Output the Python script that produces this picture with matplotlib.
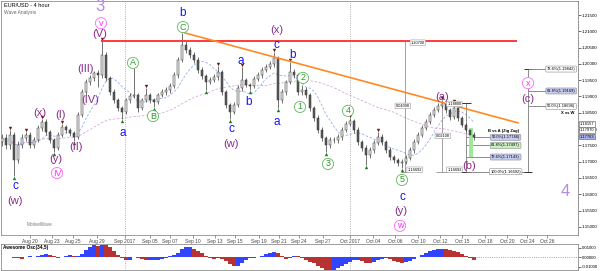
import numpy as np
import pandas as pd
import matplotlib.pyplot as plt
from matplotlib.ticker import MultipleLocator
from matplotlib.transforms import blended_transform_factory

plt.rcParams['font.family'] = ['Liberation Sans', 'DejaVu Sans']

# 4 hour candles (each entry ~ one bar on the chart), open = previous close
first_open = 1.1760
closes = [1.1773, 1.1751, 1.1782, 1.1705, 1.1751, 1.1773, 1.1782, 1.1751, 1.1767, 1.1803,
          1.1822, 1.1791, 1.1767, 1.1742, 1.1782, 1.1807, 1.1797, 1.1788, 1.1776, 1.1843,
          1.1914, 1.1945, 1.1957, 1.1972, 1.1966, 1.2027, 1.1957, 1.1914, 1.1889, 1.1865,
          1.1853, 1.1889, 1.1902, 1.1905, 1.1865, 1.1889, 1.1905, 1.1889, 1.1883, 1.1905,
          1.1914, 1.1920, 1.1932, 1.1966, 1.2012, 1.2058, 1.2043, 1.2027, 1.2012, 1.1981,
          1.1963, 1.1945, 1.1951, 1.1960, 1.1975, 1.1914, 1.1874, 1.1853, 1.1874, 1.1926,
          1.1951, 1.1935, 1.1932, 1.1954, 1.1966, 1.1981, 1.1991, 1.2000, 1.2018, 1.1889,
          1.1914, 1.1945, 1.1975, 1.1966, 1.1914, 1.1920, 1.1905, 1.1865, 1.1834, 1.1797,
          1.1773, 1.1751, 1.1767, 1.1767, 1.1776, 1.1797, 1.1816, 1.1825, 1.1797, 1.1761,
          1.1742, 1.1721, 1.1736, 1.1757, 1.1776, 1.1761, 1.1736, 1.1715, 1.1705, 1.1696,
          1.1699, 1.1711, 1.1736, 1.1761, 1.1782, 1.1803, 1.1822, 1.1843, 1.1859, 1.1871,
          1.1877, 1.1859, 1.1837, 1.1865, 1.1834, 1.1813, 1.1797, 1.1782, 1.1776]
highs = [1.1785, 1.1785, 1.1797, 1.1790, 1.1762, 1.1784, 1.1791, 1.1790, 1.1776, 1.1812,
         1.1831, 1.1830, 1.1798, 1.1772, 1.1790, 1.1816, 1.1814, 1.1804, 1.1795, 1.1852,
         1.1922, 1.1955, 1.1966, 1.1978, 1.1980, 1.2070, 1.2035, 1.1964, 1.1922, 1.1896,
         1.1872, 1.1896, 1.1910, 1.1987, 1.1912, 1.1896, 1.1926, 1.1912, 1.1896, 1.1912,
         1.1922, 1.1928, 1.1940, 1.1975, 1.2022, 1.2095, 1.2070, 1.2052, 1.2036, 1.2020,
         1.1990, 1.1970, 1.1960, 1.1968, 1.1994, 1.1982, 1.1920, 1.1880, 1.1882, 1.1934,
         1.1991, 1.1958, 1.1942, 1.1962, 1.1974, 1.1990, 1.2000, 1.2010, 1.2037, 1.2025,
         1.1922, 1.1952, 1.2006, 1.1984, 1.1972, 1.1935, 1.1928, 1.1912, 1.1872, 1.1842,
         1.1805, 1.1780, 1.1775, 1.1776, 1.1785, 1.1805, 1.1824, 1.1834, 1.1832, 1.1805,
         1.1768, 1.1750, 1.1745, 1.1765, 1.1791, 1.1784, 1.1768, 1.1744, 1.1722, 1.1712,
         1.1708, 1.1720, 1.1744, 1.1770, 1.1790, 1.1812, 1.1830, 1.1852, 1.1868, 1.1880,
         1.1889, 1.1884, 1.1866, 1.1880, 1.1872, 1.1840, 1.1820, 1.1804, 1.1790]
lows = [1.1748, 1.1740, 1.1740, 1.1656, 1.1695, 1.1742, 1.1762, 1.1742, 1.1742, 1.1760,
        1.1795, 1.1782, 1.1758, 1.1730, 1.1736, 1.1776, 1.1788, 1.1780, 1.1764, 1.1770,
        1.1836, 1.1905, 1.1936, 1.1948, 1.1929, 1.1958, 1.1948, 1.1905, 1.1880, 1.1856,
        1.1831, 1.1846, 1.1880, 1.1895, 1.1853, 1.1858, 1.1882, 1.1880, 1.1868, 1.1876,
        1.1898, 1.1906, 1.1912, 1.1925, 1.1958, 1.2005, 1.2034, 1.2018, 1.2003, 1.1972,
        1.1955, 1.1920, 1.1938, 1.1944, 1.1952, 1.1905, 1.1866, 1.1831, 1.1846, 1.1868,
        1.1918, 1.1928, 1.1920, 1.1925, 1.1946, 1.1958, 1.1974, 1.1984, 1.1992, 1.1865,
        1.1880, 1.1906, 1.1938, 1.1958, 1.1905, 1.1906, 1.1896, 1.1856, 1.1825, 1.1788,
        1.1764, 1.1730, 1.1742, 1.1756, 1.1758, 1.1768, 1.1790, 1.1808, 1.1788, 1.1752,
        1.1734, 1.1690, 1.1712, 1.1728, 1.1750, 1.1752, 1.1728, 1.1706, 1.1696, 1.1688,
        1.1681, 1.1692, 1.1704, 1.1728, 1.1754, 1.1775, 1.1796, 1.1815, 1.1836, 1.1852,
        1.1864, 1.1850, 1.1828, 1.1830, 1.1826, 1.1805, 1.1790, 1.1774, 1.1768]

# date labels and their bar positions
date_labels = ['Aug 20', 'Aug 23', 'Aug 25', 'Aug 29', 'Sep 2017', 'Sep 05', 'Sep 07', 'Sep 10',
               'Sep 13', 'Sep 15', 'Sep 19', 'Sep 21', 'Sep 24', 'Sep 27', 'Oct 2017', 'Oct 04',
               'Oct 06', 'Oct 10', 'Oct 12', 'Oct 15', 'Oct 18', 'Oct 20', 'Oct 24', 'Oct 26']
date_pos = [7, 12.5, 17.75, 23.75, 30.75, 37, 42, 47.75, 53.25, 58.25, 64.25, 69.25, 74.25,
            80.25, 87, 92.75, 98.25, 104, 109.5, 115, 120.75, 126.25, 131.25, 136.25]
month_lines = [30.75, 87]

# fractal markers (bar indices)
frac_hi = [2, 6, 10, 15, 25, 36, 45, 54, 60, 68, 72, 87, 94, 110, 113]
frac_lo = [3, 13, 18, 30, 38, 51, 57, 62, 69, 81, 91, 100]

# wave labels
wave_text = ['3', 'v', '(V)', '(III)', '(IV)', '(x)', '(I)', '(II)', '(y)', 'IV', 'c', '(w)',
             'a', 'A', 'B', 'C', 'b', 'a', 'b', 'c', '(w)', '(x)', 'c', 'a', 'b',
             '2', '1', '3', '4', '5', 'c', '(y)', 'w', '(a)', '(b)', 'x', '(c)', '4']
wave_x = [24.5, 24.75, 24.5, 20.75, 22, 9.5, 14.75, 18.5, 13.5, 13.75, 3.25, 3.25,
          30.25, 32.75, 37.75, 45.25, 45.25, 59.75, 61.75, 57.25, 57.25, 68.75, 68.5, 68.75, 72.75,
          75.25, 74.5, 81.5, 86.5, 100, 100, 99.75, 99.5, 110, 116.75, 131.5, 131.5, 140.75]
wave_y = [1.2175, 1.2125, 1.2092, 1.1984, 1.1889, 1.1849, 1.1843, 1.1745, 1.1708, 1.1665, 1.1626, 1.1580,
          1.1788, 1.2003, 1.1840, 1.2113, 1.2156, 1.2009, 1.1883, 1.1800, 1.1754, 1.2104, 1.2058, 1.1822, 1.2027,
          1.1957, 1.1868, 1.1693, 1.1856, 1.1644, 1.1592, 1.1549, 1.1503, 1.1898, 1.1687, 1.1941, 1.1892, 1.1610]
wave_kind = ['big', 'pink', 'purple', 'purple', 'purple', 'purple', 'purple', 'purple', 'purple', 'pink',
             'blue', 'purple', 'blue', 'green', 'green', 'green', 'blue', 'blue', 'blue', 'blue', 'purple',
             'purple', 'blue', 'blue', 'blue', 'green', 'green', 'green', 'green', 'green', 'blue', 'purple',
             'pink', 'purple', 'purple', 'pink', 'purple', 'big']

# horizontal resistance and trend line
res_price = 1.2070
res_from, res_to = 24.75, 128.75
trend_x = [45.75, 129]
trend_y = [1.2095, 1.1819]

# fibonacci tools
big_levels = ['78.6%(1.19842)', '61.8%(1.19169)', '50.0%(1.18696)']
big_prices = [1.19842, 1.19169, 1.18696]
b_levels = ['50.0%(1.17746)', '61.8%(1.17497)', '78.6%(1.17143)', '100.0%(1.16692)']
b_prices = [1.17746, 1.17497, 1.17143, 1.16692]
b_fills = ['#c7cdf2', '#c9efc2', '#c7cdf2', 'white']
low_5 = 1.16692
high_a = 1.18800
price_tags = ['1.18157', '1.17970', '1.17763']
tag_prices = [1.18157, 1.17970, 1.17763]

closes = np.array(closes)
highs = np.array(highs)
lows = np.array(lows)
opens = np.concatenate([[first_open], closes[:-1]])
bars = np.arange(len(closes))

fig = plt.figure(figsize=(6, 2.71), dpi=100)
ax = fig.add_axes([1 / 600, 1 - 235 / 271, 577 / 600, 234 / 271])
ao_ax = fig.add_axes([1 / 600, 1 / 271, 577 / 600, 26 / 271])

# moving averages
ma_fast = pd.Series(closes).rolling(8, min_periods=1).mean()
ma_slow = pd.Series(closes).rolling(40, min_periods=1).mean()
ax.plot(bars, ma_fast, color='#8fb0ee', lw=0.6, dashes=(3, 2))
ax.plot(bars, ma_slow, color='#d9a9de', lw=0.6, dashes=(3, 2))

# candles
up = closes >= opens
ax.vlines(bars, lows, highs, color='#3a3a3a', lw=0.5, zorder=3)
ax.bar(bars, np.maximum(np.abs(closes - opens), 0.00005), bottom=np.minimum(opens, closes),
       width=0.6, color=np.where(up, '#e8e8e8', '#5a5a5a'), edgecolor='#333333', linewidth=0.35, zorder=4)

# fractal markers
ax.scatter(bars[frac_hi], highs[frac_hi] + 0.0006, marker='v', s=6, color='#7a1414', zorder=5, lw=0)
ax.scatter(bars[frac_lo], lows[frac_lo] - 0.0006, marker='^', s=6, color='#1f7a1f', zorder=5, lw=0)

# month separators
for m in month_lines:
    ax.axvline(m, color='#999999', ls=':', lw=0.6, zorder=1)
    ao_ax.axvline(m, color='#999999', ls=':', lw=0.6, zorder=1)

# lines
ax.hlines(res_price, res_from, res_to, color='#ff2b2b', lw=1.3, zorder=6)
ax.plot(trend_x, trend_y, color='#ff8a24', lw=1.2, zorder=6)

gray = '#7a7a7a'
box = dict(boxstyle='round,pad=0.2', fc='white', ec='#999999', lw=0.4)

# measure line from (V) to wave 5 low
ax.vlines(100.75, low_5, res_price, color=gray, lw=0.5, zorder=2)
ax.hlines(low_5, 99.75, 101.75, color=gray, lw=0.5)
ax.text(102.2, res_price - 0.0008, '1.20700', fontsize=2.8, bbox=box, zorder=7)
ax.text(100.2, 1.1868, '0.04008', fontsize=2.8, ha='center', bbox=box, zorder=7)
ax.text(101.4, low_5 + 0.0003, '1.16692', fontsize=2.8, bbox=box, zorder=7)

# measure line from (a) to wave 5 low
ax.vlines(110, low_5, high_a, color=gray, lw=0.5, zorder=2)
ax.hlines(low_5, 108.5, 111.5, color=gray, lw=0.5)
ax.text(111.3, high_a - 0.0006, '1.18800', fontsize=2.8, bbox=box, zorder=7)
ax.text(110.2, 1.1776, '0.02108', fontsize=2.8, ha='center', bbox=box, zorder=7)
ax.text(111.3, low_5 + 0.0003, '1.16692', fontsize=2.8, bbox=box, zorder=7)

# (b) retracement tool
ax.vlines(116, low_5, high_a, color=gray, lw=0.6, zorder=2)
ax.hlines([high_a, low_5], 114.8, 117.2, color='#333333', lw=0.7)
ax.bar(117.2, 1.1803 - 1.1714, bottom=1.1714, width=0.9, color='#9fea9a', zorder=3)
for lab, p, fc in zip(b_levels, b_prices, b_fills):
    ax.hlines(p, 116, 122.3, color=gray, lw=0.6)
    ax.text(125.9, p, lab, fontsize=2.9, ha='center', va='center', zorder=7,
            bbox=dict(boxstyle='round,pad=0.25', fc=fc, ec='#8a8a8a', lw=0.4))
ax.hlines(low_5, 129.5, 131.5, color=gray, lw=0.6)
ax.text(125.3, 1.1794, 'B vs A (Zig Zag)', fontsize=3, ha='center', va='center', fontweight='bold')

# (c) retracement tool
ax.vlines(131.5, low_5, big_prices[0], color=gray, lw=0.6, zorder=2)
ax.hlines([big_prices[0], low_5], 130.5, 132.5, color='#333333', lw=0.7)
for lab, p in zip(big_levels, big_prices):
    ax.hlines(p, 131.5, 136.3, color=gray, lw=0.6)
    fc = '#c7cdf2' if lab.startswith('61.8') else 'white'
    ax.text(139.8, p, lab, fontsize=2.9, ha='center', va='center', zorder=7,
            bbox=dict(boxstyle='round,pad=0.25', fc=fc, ec='#8a8a8a', lw=0.4))
ax.text(141.5, 1.1849, 'X vs W', fontsize=3, ha='center', va='center', fontweight='bold')

# wave labels
styles = {
    'blue': dict(color='#1515f5', fontsize=8.5),
    'purple': dict(color='#8a2a8a', fontsize=8),
    'big': dict(color='#b48ae6', fontsize=12),
    'green': dict(color='#2a9a2a', fontsize=6.5,
                  bbox=dict(boxstyle='circle,pad=0.12', fc='white', ec='#5cb85c', lw=0.6)),
    'pink': dict(color='#ff2bff', fontsize=6.5,
                 bbox=dict(boxstyle='circle,pad=0.12', fc='white', ec='#ff66ff', lw=0.6)),
}
for t, x, y, k in zip(wave_text, wave_x, wave_y, wave_kind):
    ax.text(x, y, t, ha='center', va='center', zorder=8, **styles[k])

ax.text(0.006, 0.99, 'EUR/USD - 4 hour', transform=ax.transAxes, fontsize=4, va='top')
ax.text(0.006, 0.962, 'Wave Analysis', transform=ax.transAxes, fontsize=3.5, va='top', color='#666666')
ax.text(0.045, 0.045, 'MotiveWave', transform=ax.transAxes, fontsize=3.3, color='#777777', va='center')

# price tags on right axis
tr = blended_transform_factory(ax.transAxes, ax.transData)
for t, p in zip(price_tags, tag_prices):
    fc = '#aab3ee' if t == price_tags[-1] else 'white'
    ax.text(1.003, p, t, transform=tr, fontsize=2.9, va='center', zorder=9, clip_on=False,
            bbox=dict(boxstyle='square,pad=0.15', fc=fc, ec='#555555', lw=0.4))

ax.set_xlim(-0.25, 144)
ax.set_ylim(1.1475, 1.2193)
ax.yaxis.tick_right()
ax.set_yticks(np.arange(1.150, 1.2151, 0.005))
ax.set_yticklabels([f'{v:.5f}' for v in np.arange(1.150, 1.2151, 0.005)])
ax.yaxis.set_minor_locator(MultipleLocator(0.001))
ax.tick_params(axis='y', which='major', labelsize=3.2, length=1.8, pad=0.8, width=0.4)
ax.tick_params(axis='y', which='minor', length=1, width=0.3)
ax.set_xticks(date_pos)
ax.set_xticklabels(date_labels)
ax.tick_params(axis='x', labelsize=3.5, length=2, pad=1, width=0.4, colors='#444444')
for s in ax.spines.values():
    s.set_color('#777777')
    s.set_linewidth(0.5)

# awesome oscillator
med = pd.Series((highs + lows) / 2)
ao = med.rolling(3, min_periods=1).mean() - med.rolling(17, min_periods=1).mean()
ao_col = np.where(ao.diff().fillna(0) >= 0, '#3344ff', '#b83232')
ao_ax.bar(bars, ao, width=0.85, color=ao_col, linewidth=0)
ao_ax.hlines(0, len(bars) - 1, 144, color='#888888', ls=':', lw=0.6)
ao_ax.set_xlim(-0.25, 144)
ao_ax.set_ylim(-0.0132, 0.0142)
ao_ax.set_xticks([])
ao_ax.yaxis.tick_right()
ao_ax.set_yticks([0.01, 0.0, -0.01])
ao_ax.set_yticklabels(['0.01000', '0.00000', '-0.01000'])
ao_ax.tick_params(axis='y', labelsize=3.1, length=1.8, pad=0.8, width=0.4)
ao_ax.text(0.004, 0.86, 'Awesome Osc(34,5)', transform=ao_ax.transAxes, fontsize=3.4,
           fontweight='bold', va='center')
for s in ao_ax.spines.values():
    s.set_color('#777777')
    s.set_linewidth(0.5)

fig.savefig('out.png', dpi=100)
